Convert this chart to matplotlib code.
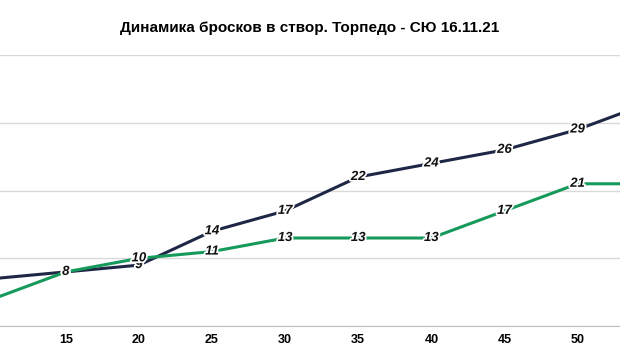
import matplotlib.pyplot as plt
import matplotlib.patheffects as pe

plt.rcParams['font.family'] = ['Liberation Sans', 'DejaVu Sans']

minutes = [10, 15, 20, 25, 30, 35, 40, 45, 50, 55]
torpedo = [7, 8, 9, 14, 17, 22, 24, 26, 29, 33]
sku = [4, 8, 10, 11, 13, 13, 13, 17, 21, 21]

fig = plt.figure(figsize=(6.2, 3.64), dpi=100)
ax = fig.add_axes([0, 0.104, 1, 0.745])

ax.plot(minutes, torpedo, color='#1e2745', lw=2.2, zorder=3)
ax.plot(minutes, sku, color='#159a5c', lw=2.2, zorder=3)

halo = [pe.withStroke(linewidth=2.5, foreground='white')]
for xs, ys in [(minutes, torpedo), (minutes, sku)]:
    for x, y in zip(xs, ys):
        ax.text(x, y, str(y), ha='center', va='center', fontsize=9.5,
                fontweight='bold', style='italic', color='#111111',
                path_effects=halo, zorder=4)

ax.set_xticks(minutes)
ax.set_xticklabels(minutes, fontsize=9, fontweight='bold')
ax.set_yticks([0, 10, 20, 30, 40])
ax.set_yticklabels([])
ax.set_xlim(10.5, 52.9)
ax.set_ylim(0, 40)
ax.tick_params(axis='y', length=0)
ax.tick_params(axis='x', length=0, pad=6)
ax.grid(axis='y', color='#d9d9d9', lw=1)
for s in ['top', 'right', 'left']:
    ax.spines[s].set_visible(False)
ax.spines['bottom'].set_color('#bfbfbf')

fig.text(0.5, 0.923, 'Динамика бросков в створ. Торпедо - СЮ 16.11.21',
         ha='center', va='center', fontsize=11, fontweight='bold')

fig.savefig('out.png', dpi=100)
